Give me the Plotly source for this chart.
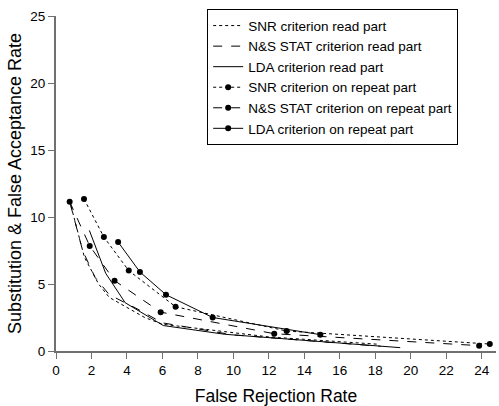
import plotly.graph_objects as go

# Read part (no markers)
snr_read_x = [0.85, 1.6, 2.4, 3.0, 5.0, 6.0, 12.0, 18.2]
snr_read_y = [10.8, 7.0, 5.0, 4.0, 2.5, 2.0, 1.05, 0.5]
ns_read_x = [0.8, 1.5, 2.2, 3.0, 4.5, 6.0, 10.0, 18.3]
ns_read_y = [11.0, 7.5, 5.5, 4.2, 3.2, 2.1, 1.2, 0.35]
lda_read_x = [1.88, 2.8, 3.9, 6.05, 9.5, 19.4]
lda_read_y = [9.0, 5.8, 3.6, 1.9, 1.25, 0.25]

# Repeat part (markers)
snr_rep_x = [1.58, 2.7, 4.1, 6.74, 13.0, 24.45]
snr_rep_y = [11.34, 8.5, 6.0, 3.3, 1.49, 0.52]
ns_rep_x = [0.77, 1.9, 3.3, 5.9, 12.3, 23.85]
ns_rep_y = [11.14, 7.84, 5.25, 2.9, 1.29, 0.4]
lda_rep_x = [3.5, 4.73, 6.2, 8.83, 14.9]
lda_rep_y = [8.13, 5.9, 4.2, 2.5, 1.22]

x_ticks = list(range(0, 25, 2))
y_ticks = [0, 5, 10, 15, 20, 25]

names = [
    "SNR criterion read part",
    "N&S STAT criterion read part",
    "LDA criterion read part",
    "SNR criterion on repeat part",
    "N&S STAT criterion on repeat part",
    "LDA criterion on repeat part",
]

fig = go.Figure()
series = [
    (snr_read_x, snr_read_y, "dot", False),
    (ns_read_x, ns_read_y, "dash", False),
    (lda_read_x, lda_read_y, "solid", False),
    (snr_rep_x, snr_rep_y, "dot", True),
    (ns_rep_x, ns_rep_y, "dash", True),
    (lda_rep_x, lda_rep_y, "solid", True),
]
for (xs, ys, dash, mk), name in zip(series, names):
    fig.add_trace(go.Scatter(
        x=xs, y=ys, name=name,
        mode="lines+markers" if mk else "lines",
        line=dict(color="black", width=1, dash=dash),
        marker=dict(color="black", size=6, symbol="circle"),
    ))

font_family = "Liberation Sans, Arial, sans-serif"
fig.update_layout(
    width=499, height=406,
    margin=dict(l=56, r=3, t=16, b=55),
    paper_bgcolor="white", plot_bgcolor="white",
    font=dict(family=font_family, color="black", size=13),
    legend=dict(
        x=0.914, y=1.02, xanchor="right", yanchor="top",
        bordercolor="black", borderwidth=1, bgcolor="white",
        font=dict(size=13.5, family=font_family),
        tracegroupgap=0,
    ),
    showlegend=True,
)
fig.update_xaxes(
    range=[0, 24.8], tickvals=x_ticks, ticktext=[str(v) for v in x_ticks],
    showgrid=False, zeroline=False, showline=True, linecolor="#707070", linewidth=2,
    ticks="outside", ticklen=6, tickcolor="#707070", tickwidth=1,
    title=dict(text="False Rejection Rate", font=dict(size=17.5), standoff=14),
    tickfont=dict(size=13.5),
)
fig.update_yaxes(
    range=[0, 25], tickvals=y_ticks, ticktext=[str(v) for v in y_ticks],
    showgrid=False, zeroline=False, showline=True, linecolor="#707070", linewidth=2,
    ticks="outside", ticklen=6, tickcolor="#707070", tickwidth=1,
    title=dict(text="Substitution & False Acceptance Rate", font=dict(size=18), standoff=4),
    tickfont=dict(size=13.5),
)
fig.write_html("out.html")
